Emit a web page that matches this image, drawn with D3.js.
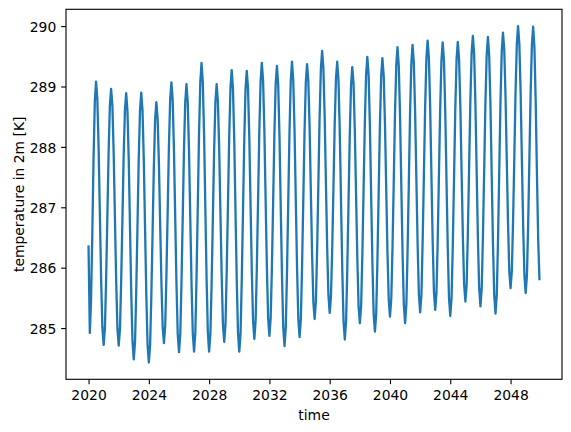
<!DOCTYPE html>
<html>
<head>
<meta charset="utf-8">
<script src="https://cdn.jsdelivr.net/npm/d3@7"></script>
<style>
  html, body { margin: 0; padding: 0; background: #fff; }
  svg { display: block; }
  text { font-family: "DejaVu Sans", sans-serif; }
</style>
</head>
<body>
<svg id="chart" width="571" height="432"></svg>
<script>
// Monthly 2 m temperature [K], first of each month, starting January 2020
const seriesStart = "2020-01-01";
const temps2020s = [
  286.35, 284.92, 285.45, 286.55, 287.80, 288.75, 289.08, 288.79, 287.99, 286.90, 285.81, 285.01,
  284.72, 285.00, 285.78, 286.84, 287.90, 288.68, 288.96, 288.68, 287.90, 286.84, 285.77, 284.99,
  284.71, 284.99, 285.76, 286.80, 287.85, 288.61, 288.89, 288.59, 287.79, 286.69, 285.58, 284.78,
  284.48, 284.78, 285.59, 286.69, 287.80, 288.60, 288.90, 288.60, 287.78, 286.67, 285.55, 284.73,
  284.43, 284.72, 285.51, 286.59, 287.66, 288.45, 288.74, 288.47, 287.74, 286.75, 285.75, 285.02,
  284.75, 285.04, 285.83, 286.91, 287.99, 288.78, 289.07, 288.77, 287.95, 286.84, 285.72, 284.90,
  284.60, 284.90, 285.71, 286.82, 287.93, 288.74, 289.04, 288.74, 287.93, 286.83, 285.72, 284.91,
  284.61, 284.93, 285.81, 287.00, 288.20, 289.07, 289.39, 289.07, 288.20, 287.00, 285.81, 284.93,
  284.61, 284.91, 285.72, 286.83, 287.93, 288.74, 289.04, 288.75, 287.97, 286.91, 285.84, 285.06,
  284.77, 285.07, 285.90, 287.02, 288.15, 288.97, 289.27, 288.96, 288.11, 286.94, 285.78, 284.92
];
const temps2030s = [
  284.61, 284.92, 285.77, 286.94, 288.10, 288.95, 289.26, 288.96, 288.15, 287.04, 285.93, 285.12,
  284.82, 285.13, 285.96, 287.11, 288.25, 289.08, 289.39, 289.09, 288.26, 287.13, 286.00, 285.17,
  284.87, 285.17, 285.99, 287.11, 288.22, 289.04, 289.34, 289.03, 288.18, 287.02, 285.86, 285.01,
  284.70, 285.02, 285.88, 287.06, 288.23, 289.09, 289.41, 289.10, 288.27, 287.13, 285.99, 285.16,
  284.85, 285.15, 285.98, 287.11, 288.24, 289.07, 289.37, 289.09, 288.32, 287.26, 286.21, 285.43,
  285.15, 285.45, 286.26, 287.37, 288.48, 289.29, 289.59, 289.30, 288.51, 287.42, 286.34, 285.54,
  285.25, 285.53, 286.29, 287.33, 288.37, 289.13, 289.41, 289.10, 288.26, 287.11, 285.96, 285.12,
  284.81, 285.11, 285.94, 287.07, 288.19, 289.02, 289.32, 289.04, 288.26, 287.20, 286.14, 285.36,
  285.08, 285.38, 286.18, 287.29, 288.39, 289.19, 289.49, 289.19, 288.35, 287.22, 286.08, 285.24,
  284.94, 285.24, 286.07, 287.21, 288.34, 289.17, 289.47, 289.18, 288.40, 287.33, 286.26, 285.48
];
const temps2040s = [
  285.19, 285.49, 286.31, 287.42, 288.54, 289.35, 289.65, 289.34, 288.51, 287.37, 286.22, 285.39,
  285.08, 285.39, 286.23, 287.39, 288.54, 289.38, 289.69, 289.39, 288.58, 287.48, 286.37, 285.56,
  285.26, 285.56, 286.39, 287.51, 288.64, 289.46, 289.76, 289.46, 288.65, 287.53, 286.42, 285.60,
  285.30, 285.60, 286.41, 287.52, 288.62, 289.43, 289.73, 289.43, 288.60, 287.47, 286.33, 285.50,
  285.20, 285.50, 286.34, 287.47, 288.61, 289.44, 289.74, 289.45, 288.67, 287.59, 286.52, 285.73,
  285.44, 285.73, 286.54, 287.64, 288.74, 289.55, 289.84, 289.54, 288.72, 287.60, 286.48, 285.66,
  285.36, 285.66, 286.48, 287.59, 288.71, 289.52, 289.82, 289.51, 288.68, 287.53, 286.39, 285.55,
  285.24, 285.55, 286.40, 287.57, 288.73, 289.58, 289.89, 289.61, 288.83, 287.78, 286.72, 285.94,
  285.66, 285.95, 286.75, 287.83, 288.92, 289.71, 290.00, 289.70, 288.90, 287.79, 286.69, 285.88,
  285.58, 285.88, 286.68, 287.79, 288.89, 289.69, 289.99, 289.65, 288.75, 287.55, 286.45, 285.81
];
const xTickYears = [2020, 2024, 2028, 2032, 2036, 2040, 2044, 2048];
const yTicks = [285, 286, 287, 288, 289, 290];
const xLabel = "time";
const yLabel = "temperature in 2m [K]";

const temps = temps2020s.concat(temps2030s, temps2040s);
const start = new Date(seriesStart + "T00:00:00Z");
const data = temps.map((v, i) => ({ date: d3.utcMonth.offset(start, i), value: v }));

const svg = d3.select("#chart");
svg.append("rect").attr("width", 571).attr("height", 432).attr("fill", "#fff");

const margin = { left: 66, right: 9, top: 9.3, bottom: 52.7 };
const W = 571, H = 432;
const x0 = margin.left, x1 = W - margin.right;
const y0 = margin.top, y1 = H - margin.bottom;

// matplotlib-style 5% autoscale margins
const xExt = d3.extent(data, d => +d.date);
const xPad = (xExt[1] - xExt[0]) * 0.05;
const x = d3.scaleUtc().domain([new Date(xExt[0] - xPad), new Date(xExt[1] + xPad)]).range([x0, x1]);
const yExt = d3.extent(data, d => d.value);
const yPad = (yExt[1] - yExt[0]) * 0.05;
const y = d3.scaleLinear().domain([yExt[0] - yPad, yExt[1] + yPad]).range([y1, y0]);

const fontSize = 13.9;

// line
svg.append("path")
  .datum(data)
  .attr("fill", "none")
  .attr("stroke", "#1f77b4")
  .attr("stroke-width", 2.3)
  .attr("stroke-linejoin", "round")
  .attr("stroke-linecap", "square")
  .attr("d", d3.line().x(d => x(d.date)).y(d => y(d.value)));

// x axis
const xAxis = d3.axisBottom(x)
  .tickValues(xTickYears.map(yr => new Date(Date.UTC(yr, 0, 1))))
  .tickFormat(d3.utcFormat("%Y"))
  .tickSize(4.86)
  .tickPadding(4.86);
const gx = svg.append("g").attr("transform", `translate(0,${y1})`).call(xAxis);
gx.select(".domain").remove();
gx.selectAll(".tick line").attr("stroke", "#000").attr("stroke-width", 1.11);
gx.selectAll(".tick text").attr("fill", "#000").attr("font-size", fontSize)
  .attr("font-family", "DejaVu Sans").attr("y", 11).attr("dy", "0.71em");

// y axis
const yAxis = d3.axisLeft(y)
  .tickValues(yTicks)
  .tickFormat(d3.format("d"))
  .tickSize(4.86)
  .tickPadding(4.86);
const gy = svg.append("g").attr("transform", `translate(${x0},0)`).call(yAxis);
gy.select(".domain").remove();
gy.selectAll(".tick line").attr("stroke", "#000").attr("stroke-width", 1.11);
gy.selectAll(".tick text").attr("fill", "#000").attr("font-size", fontSize)
  .attr("font-family", "DejaVu Sans").attr("dy", "0.37em");

// frame (spines)
svg.append("rect")
  .attr("x", x0).attr("y", y0)
  .attr("width", x1 - x0).attr("height", y1 - y0)
  .attr("fill", "none").attr("stroke", "#000").attr("stroke-width", 1.11);

// labels
svg.append("text")
  .attr("x", (x0 + x1) / 2).attr("y", 420)
  .attr("text-anchor", "middle")
  .attr("font-size", fontSize).attr("fill", "#000")
  .text(xLabel);

svg.append("text")
  .attr("transform", `translate(24,${(y0 + y1) / 2}) rotate(-90)`)
  .attr("text-anchor", "middle")
  .attr("font-size", fontSize).attr("fill", "#000")
  .text(yLabel);
</script>
</body>
</html>
